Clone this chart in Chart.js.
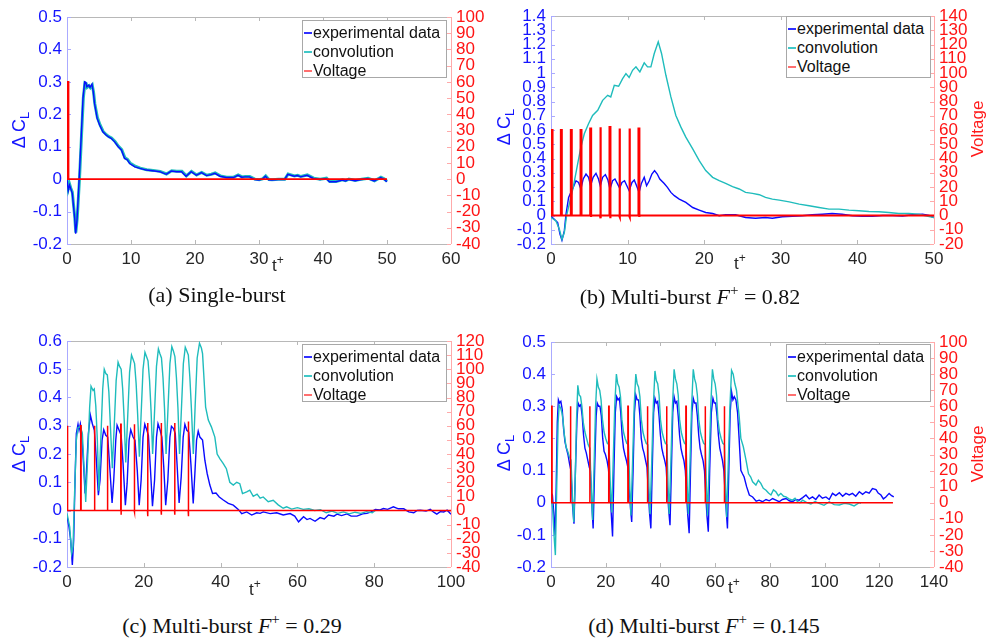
<!DOCTYPE html>
<html>
<head>
<meta charset="utf-8">
<script src="https://cdn.jsdelivr.net/npm/chart.js@4.4.1/dist/chart.umd.min.js"></script>
<style>
  body { margin: 0; background: #fff; }
  #page { position: relative; width: 992px; height: 640px; overflow: hidden; font-family: "Liberation Sans", Arial, sans-serif; }
  canvas { position: absolute; }
  .leg { position: absolute; background: #fff; border: 1px solid #a8a8a8; box-sizing: border-box; padding-top: 2px; }
  .row { position: relative; height: 19px; line-height: 19px; font-size: 16px; color: #111; padding-left: 10px; white-space: nowrap; }
  .sw { position: absolute; left: 1px; top: 9px; width: 8px; height: 2px; }
  .ylab { position: absolute; transform: translate(-50%, -50%) rotate(-90deg); white-space: nowrap; font-size: 18px; color: #1414ff; }
  .ylab sub { font-size: 13px; vertical-align: -4px; }
  .vlab { position: absolute; transform: translate(-50%, -50%) rotate(-90deg); white-space: nowrap; font-size: 17px; color: #ff1a1a; }
  .tlab { position: absolute; font-size: 17px; color: #262626; white-space: nowrap; }
  .tlab sup { font-size: 12px; vertical-align: 7px; }
  .cap { position: absolute; width: 400px; text-align: center; font-family: "Liberation Serif", "DejaVu Serif", serif; font-size: 22px; color: #111; white-space: nowrap; }
  .cap sup { font-size: 15px; vertical-align: 9px; }
</style>
</head>
<body>
<div id="page">
  <canvas id="ca" width="496" height="280" style="left:0;top:0"></canvas>
  <canvas id="cb" width="496" height="280" style="left:496px;top:0"></canvas>
  <canvas id="cc" width="496" height="280" style="left:0;top:320px"></canvas>
  <canvas id="cd" width="496" height="280" style="left:496px;top:320px"></canvas>

  <div class="leg" style="left:302px;top:20px;width:145px;height:58px">
    <div class="row"><span class="sw" style="background:#3030ff"></span>experimental data</div>
    <div class="row"><span class="sw" style="background:#40c8c8"></span>convolution</div>
    <div class="row"><span class="sw" style="background:#ff7070"></span>Voltage</div>
  </div>
  <div class="leg" style="left:786px;top:16px;width:145px;height:62px">
    <div class="row"><span class="sw" style="background:#3030ff"></span>experimental data</div>
    <div class="row"><span class="sw" style="background:#40c8c8"></span>convolution</div>
    <div class="row"><span class="sw" style="background:#ff7070"></span>Voltage</div>
  </div>
  <div class="leg" style="left:302px;top:344px;width:145px;height:58px">
    <div class="row"><span class="sw" style="background:#3030ff"></span>experimental data</div>
    <div class="row"><span class="sw" style="background:#40c8c8"></span>convolution</div>
    <div class="row"><span class="sw" style="background:#ff7070"></span>Voltage</div>
  </div>
  <div class="leg" style="left:786px;top:344px;width:145px;height:58px">
    <div class="row"><span class="sw" style="background:#3030ff"></span>experimental data</div>
    <div class="row"><span class="sw" style="background:#40c8c8"></span>convolution</div>
    <div class="row"><span class="sw" style="background:#ff7070"></span>Voltage</div>
  </div>

  <div class="ylab" style="left:20px;top:130px">Δ C<sub>L</sub></div>
  <div class="ylab" style="left:505px;top:127px">Δ C<sub>L</sub></div>
  <div class="ylab" style="left:20px;top:454px">Δ C<sub>L</sub></div>
  <div class="ylab" style="left:505px;top:453px">Δ C<sub>L</sub></div>
  <div class="vlab" style="left:978px;top:129px">Voltage</div>
  <div class="vlab" style="left:978px;top:454px">Voltage</div>

  <div class="tlab" style="left:272px;top:253px">t<sup>+</sup></div>
  <div class="tlab" style="left:734px;top:251px">t<sup>+</sup></div>
  <div class="tlab" style="left:249px;top:577px">t<sup>+</sup></div>
  <div class="tlab" style="left:728px;top:575px">t<sup>+</sup></div>

  <div class="cap" style="left:17px;top:282px">(a) Single-burst</div>
  <div class="cap" style="left:490px;top:282px">(b) Multi-burst <i>F</i><sup>+</sup> = 0.82</div>
  <div class="cap" style="left:32px;top:611px">(c) Multi-burst <i>F</i><sup>+</sup> = 0.29</div>
  <div class="cap" style="left:504px;top:611px">(d) Multi-burst <i>F</i><sup>+</sup> = 0.145</div>
</div>

<script>
// ---- (a) single burst ----
const aExp = [[0,0],[0.2,-0.035],[0.4,-0.018],[0.6,-0.03],[0.83,-0.044],[1.0,-0.08],[1.2,-0.12],[1.35,-0.168],[1.56,-0.127],[1.9,0.0],[2.24,0.14],[2.5,0.25],[2.76,0.30],[2.95,0.298],[3.1,0.285],[3.4,0.29],[3.6,0.283],[3.9,0.293],[4.1,0.27],[4.3,0.234],[4.7,0.188],[5.1,0.167],[5.6,0.146],[6.1,0.136],[6.5,0.13],[6.9,0.126],[7.45,0.115],[8.0,0.1],[8.5,0.09],[9.0,0.064],[9.4,0.06],[9.8,0.048],[10.6,0.038],[11.4,0.033],[12.4,0.028],[13.4,0.026],[14.5,0.023],[15.5,0.015],[16.3,0.025],[17.1,0.023],[17.9,0.023],[18.6,0.009],[19.4,0.023],[20.2,0.012],[21,0.02],[21.8,0.011],[22.5,0.014],[23.1,0.018],[23.9,0.009],[24.9,0.005],[26,0.005],[26.7,0.012],[27.3,0.006],[27.8,0.007],[28.5,0.007],[29.3,-0.001],[30,-0.003],[30.5,0.0],[31,0.009],[31.5,-0.002],[32,-0.003],[33,-0.001],[34,-0.001],[34.5,0.015],[35.5,0.009],[36,0.011],[36.5,0.007],[37.5,0.012],[38.5,0.002],[39.5,-0.001],[40.5,0.002],[41,-0.008],[42,-0.008],[43,-0.003],[43.5,-0.006],[44,-0.001],[45,-0.005],[46,-0.001],[47,0.002],[48,-0.006],[49,0.005],[49.5,0.0],[50,-0.008]];
const aConv = [[0,0.002],[0.2,-0.03],[0.4,-0.015],[0.6,-0.028],[0.83,-0.04],[1.0,-0.075],[1.2,-0.115],[1.38,-0.165],[1.6,-0.12],[1.95,0.0],[2.28,0.14],[2.55,0.25],[2.8,0.297],[3.0,0.295],[3.15,0.283],[3.45,0.288],[3.65,0.282],[3.95,0.29],[4.15,0.268],[4.35,0.232],[4.75,0.19],[5.15,0.168],[5.65,0.147],[6.15,0.137],[6.55,0.131],[6.95,0.127],[7.5,0.116],[8.05,0.101],[8.55,0.091],[9.05,0.066],[9.45,0.061],[9.85,0.05],[10.65,0.04],[11.45,0.034],[12.45,0.029],[13.45,0.027],[14.55,0.024],[15.55,0.016],[16.35,0.026],[17.15,0.024],[17.95,0.024],[18.65,0.01],[19.45,0.024],[20.25,0.013],[21.05,0.021],[21.85,0.012],[22.55,0.015],[23.15,0.019],[23.95,0.01],[24.95,0.006],[26.05,0.006],[26.75,0.013],[27.35,0.007],[27.85,0.008],[28.55,0.008],[29.35,0.0],[30.05,-0.002],[30.55,0.001],[31.05,0.01],[31.55,-0.001],[32.05,-0.002],[33.05,0.0],[34.05,0.0],[34.55,0.016],[35.55,0.01],[36.05,0.012],[36.55,0.008],[37.55,0.013],[38.55,0.003],[39.55,0.0],[40.55,0.003],[41.05,-0.007],[42.05,-0.007],[43.05,-0.002],[43.55,-0.005],[44.05,0.0],[45.05,-0.004],[46.05,0.0],[47.05,0.003],[48.05,-0.005],[49.05,0.006],[49.55,0.001],[50,-0.007]];
const aPulseT = [0.05];
const aPulseTop = [60];
const aPulseLow = [0];

// ---- (b) multi burst F+ = 0.82 ----
const bExp = [[0,-0.005],[0.43,-0.026],[0.87,-0.05],[1.17,-0.13],[1.43,-0.174],[1.74,-0.108],[1.96,0.01],[2.3,0.127],[2.6,0.162],[2.9,0.197],[3.26,0.244],[3.6,0.232],[3.9,0.186],[4.2,0.256],[4.57,0.291],[4.9,0.268],[5.17,0.209],[5.5,0.268],[5.87,0.296],[6.2,0.256],[6.43,0.209],[6.74,0.268],[7.1,0.287],[7.43,0.249],[7.7,0.186],[8.04,0.244],[8.35,0.256],[8.65,0.225],[8.96,0.193],[9.26,0.232],[9.6,0.244],[9.9,0.209],[10.2,0.174],[10.57,0.232],[10.87,0.249],[11.17,0.209],[11.5,0.162],[11.8,0.225],[12.17,0.268],[12.48,0.209],[12.83,0.244],[13.17,0.291],[13.52,0.315],[13.87,0.291],[14.2,0.256],[14.78,0.225],[15.2,0.197],[15.65,0.162],[16.1,0.139],[16.74,0.115],[17.6,0.092],[18.5,0.056],[19.35,0.038],[20.2,0.021],[21.1,0.014],[21.96,-0.002],[22.8,0.005],[24.1,0.005],[25.4,-0.014],[26.7,-0.019],[28,-0.014],[28.9,-0.019],[30.2,-0.009],[31.5,-0.005],[32.8,-0.002],[34.1,0.005],[35.4,0.009],[36.7,0.014],[38.0,0.009],[39.35,-0.002],[40.65,-0.005],[41.96,-0.005],[43.3,0.0],[44.6,0.0],[45.9,-0.003],[47.2,0.005],[48.5,0.009],[49.35,0.0],[50,-0.014]];
const bConv = [[0,-0.014],[0.65,-0.038],[1.09,-0.096],[1.43,-0.167],[1.74,-0.12],[2.04,0.0],[2.48,0.103],[2.9,0.197],[3.48,0.362],[3.9,0.479],[4.35,0.573],[4.9,0.644],[5.43,0.702],[6.1,0.738],[6.74,0.808],[7.4,0.843],[7.8,0.832],[8.26,0.914],[8.83,0.907],[9.35,0.961],[9.78,0.996],[10.2,0.968],[10.65,1.019],[11.09,1.043],[11.6,1.008],[12.17,1.071],[12.6,1.043],[13.04,1.043],[13.48,1.137],[14.0,1.219],[14.43,1.137],[15.0,0.984],[15.65,0.832],[16.3,0.702],[16.96,0.62],[17.6,0.55],[18.5,0.467],[19.35,0.385],[20.2,0.315],[21.1,0.268],[21.96,0.244],[22.8,0.225],[23.7,0.202],[24.57,0.186],[25.4,0.162],[26.3,0.155],[27.2,0.146],[28,0.127],[28.9,0.115],[29.8,0.108],[31.1,0.096],[32.4,0.08],[33.7,0.068],[35,0.056],[36.3,0.045],[37.6,0.045],[38.9,0.038],[40.2,0.033],[41.5,0.028],[42.8,0.026],[44.1,0.021],[45.4,0.014],[46.7,0.014],[48,0.009],[48.9,-0.002],[50,-0.014]];
const bPulseT = [0.09, 1.3, 2.6, 3.87, 5.13, 6.4, 7.65, 8.9, 10.2, 11.43];
const bPulseTop = [60, 60, 60, 60, 61, 62, 62, 61, 61, 61];
const bPulseLow = [0, 0, 0, 0, -1, -2, -2, -1, -1, -1];

// ---- (c) multi burst F+ = 0.29 ----
const cExp = [[0,-0.02],[0.52,-0.058],[0.96,-0.105],[1.39,-0.193],[1.74,-0.105],[2.09,0.107],[2.43,0.272],[2.87,0.305],[3.13,0.284],[3.48,0.307],[3.83,0.272],[4.35,0.154],[4.7,0.06],[5.04,0.131],[5.57,0.272],[6.09,0.337],[6.6,0.307],[7.13,0.284],[7.65,0.178],[8.17,0.054],[8.6,0.107],[9.13,0.249],[9.57,0.286],[10.1,0.266],[10.6,0.26],[11.13,0.154],[11.74,0.027],[12.17,0.107],[12.7,0.249],[13.04,0.302],[13.57,0.284],[14.1,0.266],[14.6,0.166],[15.2,0.019],[15.65,0.095],[16.17,0.249],[16.6,0.286],[17.2,0.26],[17.7,0.249],[18.3,0.142],[18.8,0.019],[19.3,0.107],[19.8,0.26],[20.26,0.305],[20.8,0.284],[21.2,0.266],[21.7,0.154],[22.26,0.015],[22.8,0.107],[23.3,0.26],[23.7,0.307],[24.26,0.284],[24.7,0.26],[25.2,0.154],[25.7,0.019],[26.26,0.107],[26.8,0.26],[27.2,0.298],[27.74,0.29],[28.2,0.272],[28.7,0.154],[29.2,0.027],[29.74,0.119],[30.26,0.26],[30.7,0.305],[31.2,0.284],[31.7,0.278],[32.26,0.166],[32.87,0.025],[33.3,0.131],[33.74,0.249],[34.17,0.281],[34.6,0.26],[35.3,0.249],[35.9,0.178],[36.5,0.131],[37.2,0.09],[37.9,0.06],[38.8,0.062],[39.65,0.048],[40.7,0.037],[42,0.025],[43.3,0.019],[44.6,0.004],[45.5,-0.011],[46.8,-0.005],[48.1,-0.016],[49.4,-0.008],[50.3,-0.01],[51.1,-0.005],[52.9,-0.011],[54.6,-0.008],[56.3,-0.016],[58.1,-0.011],[59.3,-0.02],[60.3,-0.04],[61.6,-0.022],[62.5,-0.032],[63.3,-0.028],[64.6,-0.038],[65.9,-0.025],[67,-0.03],[68.1,-0.016],[69.5,-0.02],[70.3,-0.013],[71.5,-0.018],[72.9,-0.012],[74,-0.02],[75.5,-0.02],[77,-0.012],[78.1,-0.01],[79.2,-0.005],[80.3,0.004],[81.5,0.002],[82.4,0.007],[83.5,0.004],[85,0.013],[86.3,0.006],[87.7,0.006],[89,-0.005],[90.3,-0.008],[91.2,0.0],[92,0.001],[93.5,-0.002],[94.6,0.004],[95.5,-0.006],[96.3,-0.013],[97.2,-0.004],[98.1,-0.005],[99,0.001],[100,-0.013]];
const cConv = [[0,-0.01],[0.7,-0.058],[1.22,-0.152],[1.57,-0.128],[2.0,0.072],[2.43,0.249],[2.87,0.293],[3.48,0.298],[4.0,0.272],[4.52,0.131],[4.87,0.03],[5.4,0.19],[5.9,0.366],[6.26,0.44],[6.78,0.425],[7.1,0.43],[7.5,0.37],[7.9,0.25],[8.3,0.07],[8.8,0.25],[9.3,0.43],[9.7,0.5],[10.1,0.485],[10.5,0.48],[10.9,0.42],[11.3,0.3],[11.8,0.15],[12.3,0.3],[12.8,0.46],[13.3,0.525],[13.7,0.51],[14.1,0.5],[14.5,0.43],[14.9,0.32],[15.3,0.17],[15.8,0.33],[16.3,0.49],[16.8,0.55],[17.2,0.535],[17.6,0.52],[18.0,0.45],[18.4,0.34],[18.85,0.19],[19.3,0.34],[19.8,0.5],[20.3,0.56],[20.7,0.545],[21.1,0.53],[21.5,0.46],[21.9,0.35],[22.3,0.2],[22.8,0.35],[23.3,0.51],[23.8,0.572],[24.2,0.555],[24.6,0.54],[25.0,0.47],[25.4,0.36],[25.8,0.2],[26.3,0.36],[26.8,0.52],[27.3,0.58],[27.7,0.565],[28.1,0.545],[28.5,0.47],[28.9,0.36],[29.3,0.2],[29.8,0.36],[30.3,0.52],[30.8,0.578],[31.2,0.565],[31.6,0.55],[32.0,0.47],[32.4,0.36],[32.9,0.2],[33.4,0.38],[33.9,0.54],[34.5,0.592],[35.0,0.575],[35.3,0.555],[35.6,0.485],[36.1,0.366],[36.8,0.32],[37.6,0.296],[38.5,0.26],[39.1,0.2],[39.8,0.184],[40.7,0.166],[41.5,0.148],[42.4,0.1],[43.3,0.09],[44.2,0.1],[45,0.095],[45.7,0.06],[46.8,0.066],[47.6,0.072],[48.5,0.05],[49.5,0.058],[50.3,0.044],[51.1,0.048],[52.4,0.031],[53.7,0.036],[55,0.02],[56.3,0.008],[57.2,0.013],[58.5,0.005],[60,0.01],[61.5,0.004],[63,0.006],[64.5,0.0],[66,0.003],[67.5,-0.008],[69,-0.002],[70.5,-0.01],[72,-0.005],[73.5,-0.012],[75,-0.006],[76.5,-0.01],[78,-0.004],[79.5,-0.008],[80.3,0.0]];
const cPulseT = [0.09, 3.57, 7.13, 10.5, 14.0, 17.5, 20.96, 24.5, 28.0, 31.56];
const cPulseTop = [60, 60, 60, 60, 61, 61, 62, 62, 62, 63];
const cPulseLow = [0, 0, 0, 0, -3, -1, -4, -3, -3, -4];

// ---- (d) multi burst F+ = 0.145 ----
const dExp = [[0,0.03],[0.5,0.025],[1.0,-0.03],[1.5,-0.1],[1.9,0.05],[2.3,0.25],[2.7,0.32],[3.1,0.31],[3.6,0.315],[4.1,0.29],[4.6,0.23],[5.1,0.19],[5.6,0.17],[6.2,0.15],[6.8,0.12],[7.3,0.1],[7.8,0.0],[8.4,-0.065],[9.0,0.12],[9.5,0.26],[9.9,0.31],[10.4,0.3],[10.9,0.305],[11.4,0.27],[11.9,0.21],[12.4,0.17],[12.9,0.155],[13.5,0.13],[14.0,0.11],[14.4,0.1],[14.9,0.0],[15.4,-0.08],[16.0,0.12],[16.5,0.27],[16.9,0.31],[17.4,0.3],[17.9,0.3],[18.4,0.27],[18.9,0.2],[19.4,0.16],[19.9,0.15],[20.5,0.13],[21.0,0.105],[21.5,0.05],[22.0,-0.03],[22.5,-0.105],[23.0,0.1],[23.5,0.28],[24.0,0.33],[24.5,0.32],[25.0,0.325],[25.5,0.28],[26.0,0.21],[26.5,0.17],[27.0,0.15],[27.6,0.13],[28.1,0.11],[28.6,0.04],[29.1,-0.02],[29.5,-0.06],[30.0,0.1],[30.5,0.28],[31.0,0.335],[31.5,0.32],[32.0,0.32],[32.5,0.27],[33.0,0.2],[33.5,0.17],[34.0,0.155],[34.6,0.13],[35.1,0.11],[35.6,0.03],[36.0,-0.03],[36.5,-0.08],[37.0,0.1],[37.5,0.28],[38.0,0.325],[38.5,0.31],[39.0,0.315],[39.5,0.27],[40.0,0.21],[40.5,0.17],[41.0,0.15],[41.6,0.13],[42.1,0.11],[42.6,0.03],[43.0,-0.02],[43.5,-0.07],[44.0,0.1],[44.5,0.28],[45.0,0.33],[45.5,0.31],[46.0,0.315],[46.5,0.27],[47.0,0.21],[47.5,0.17],[48.0,0.15],[48.6,0.13],[49.1,0.1],[49.6,0.02],[50.0,-0.04],[50.5,-0.095],[51.0,0.1],[51.5,0.28],[52.0,0.325],[52.5,0.31],[53.0,0.31],[53.5,0.27],[54.0,0.21],[54.5,0.17],[55.0,0.15],[55.6,0.13],[56.1,0.1],[56.6,0.02],[57.0,-0.04],[57.5,-0.09],[58.0,0.1],[58.6,0.28],[59.2,0.325],[59.7,0.31],[60.2,0.31],[60.7,0.27],[61.2,0.21],[61.7,0.17],[62.2,0.15],[62.7,0.13],[63.2,0.1],[63.7,0.02],[64.1,-0.03],[64.5,-0.08],[65.0,0.1],[65.5,0.28],[66.0,0.345],[66.5,0.32],[67.0,0.33],[67.6,0.32],[68.2,0.28],[68.8,0.194],[69.4,0.101],[70.0,0.09],[70.6,0.08],[71.5,0.05],[72.5,0.024],[73.7,0.018],[75,0.005],[76.1,0.008],[77.3,0.003],[78.6,0.01],[79.8,0.006],[81,0.013],[82.2,0.008],[83.4,0.003],[84.6,0.01],[85.9,0.013],[87.1,0.006],[88.3,0.003],[89.5,0.01],[90.7,0.008],[92,0.016],[93.2,0.024],[94.4,0.012],[95.6,0.018],[96.8,0.01],[98,0.024],[99.2,0.014],[100.5,0.018],[101.7,0.01],[102.9,0.029],[104.1,0.022],[105.4,0.031],[106.6,0.02],[107.8,0.029],[109,0.024],[110.2,0.029],[111.4,0.02],[112.7,0.034],[113.9,0.026],[115.1,0.034],[116.3,0.03],[117.5,0.044],[118.8,0.041],[119.6,0.03],[120.6,0.024],[121.5,0.012],[122.4,0.018],[123.6,0.029],[124.5,0.022],[125.3,0.018]];
const dConv = [[0,0.02],[0.6,-0.02],[1.1,-0.1],[1.6,-0.163],[2.1,0.05],[2.6,0.25],[3.0,0.303],[3.5,0.295],[4.0,0.28],[4.4,0.256],[4.9,0.21],[5.5,0.174],[6.1,0.16],[6.7,0.143],[7.3,0.132],[7.8,0.03],[8.3,-0.06],[8.8,0.05],[9.3,0.25],[9.8,0.365],[10.3,0.335],[10.8,0.33],[11.3,0.3],[11.8,0.25],[12.4,0.22],[13.0,0.2],[13.6,0.18],[14.2,0.17],[14.7,0.05],[15.2,-0.054],[15.7,0.1],[16.3,0.3],[16.8,0.385],[17.3,0.36],[17.8,0.35],[18.3,0.32],[18.8,0.26],[19.4,0.22],[20.0,0.2],[20.6,0.185],[21.2,0.18],[21.7,0.05],[22.2,-0.03],[22.7,0.12],[23.3,0.3],[23.9,0.4],[24.4,0.37],[24.9,0.36],[25.4,0.33],[25.9,0.26],[26.5,0.22],[27.1,0.2],[27.7,0.185],[28.3,0.18],[28.8,0.05],[29.2,-0.04],[29.8,0.12],[30.4,0.3],[31.0,0.4],[31.5,0.37],[32.0,0.36],[32.5,0.33],[33.0,0.26],[33.6,0.22],[34.2,0.2],[34.8,0.185],[35.4,0.18],[35.8,0.05],[36.2,-0.035],[36.8,0.12],[37.4,0.3],[38.0,0.41],[38.5,0.38],[39.0,0.37],[39.5,0.335],[40.0,0.26],[40.6,0.22],[41.2,0.2],[41.8,0.185],[42.4,0.18],[42.8,0.05],[43.2,-0.035],[43.8,0.12],[44.4,0.3],[45.0,0.415],[45.5,0.385],[46.0,0.37],[46.5,0.335],[47.0,0.26],[47.6,0.22],[48.2,0.2],[48.8,0.185],[49.4,0.18],[49.8,0.05],[50.2,-0.035],[50.8,0.12],[51.4,0.3],[52.0,0.415],[52.5,0.385],[53.0,0.37],[53.5,0.335],[54.0,0.26],[54.6,0.22],[55.2,0.2],[55.8,0.185],[56.4,0.18],[56.8,0.05],[57.2,-0.04],[57.8,0.12],[58.4,0.3],[59.0,0.415],[59.5,0.385],[60.0,0.37],[60.5,0.335],[61.0,0.26],[61.6,0.22],[62.2,0.2],[62.8,0.185],[63.4,0.18],[63.8,0.05],[64.2,-0.045],[64.8,0.12],[65.4,0.3],[66.0,0.412],[66.6,0.4],[67.2,0.37],[67.8,0.35],[68.8,0.267],[69.4,0.2],[70.3,0.174],[71.3,0.132],[72.2,0.09],[73.0,0.08],[73.7,0.065],[74.9,0.055],[75.8,0.07],[76.7,0.06],[77.6,0.045],[78.6,0.039],[79.5,0.03],[80.4,0.024],[81.3,0.04],[82.2,0.034],[83.1,0.022],[84,0.029],[85,0.02],[85.9,0.018],[87,0.012],[88.3,0.008],[89.2,0.014],[90.1,0.003],[91,0.0],[92,0.008],[93.5,0.0],[95,-0.004],[96.5,0.004],[98,-0.002],[99.8,-0.008],[101.7,0.003],[103.5,-0.006],[105.4,-0.007],[107.2,-0.002],[109,-0.004],[110.8,-0.01],[112.7,0.0],[113.3,-0.002]];
const dPulseT = [0.24, 7.06, 14.1, 21.1, 28.1, 35.2, 42.2, 49.3, 56.3, 63.3];
const dPulseTop = [60, 60, 60, 60, 60, 60, 60, 60, 60, 60];
const dPulseLow = [0, 0, 0, 0, 0, 0, 0, 0, 0, 0];

const BLUE = '#0a0aff';
const CYAN = '#1fbcbc';
const RED = '#ff0000';

Chart.defaults.font.family = "'Liberation Sans', Arial, sans-serif";
Chart.defaults.font.size = 17;

function pts(arr) {
  return arr.map(p => ({ x: p[0], y: p[1] }));
}

function pulseLine(ts, tops, lows, w, end) {
  const out = [[0, 0]];
  ts.forEach((t, i) => {
    out.push([t, 0], [t, tops[i]], [t + w, tops[i]], [t + w, lows[i]], [t + w, 0]);
  });
  out.push([end, 0]);
  return out;
}

// matlab style box with inward ticks
const boxPlugin = {
  id: 'box',
  beforeDatasetsDraw(chart) {
    const { ctx, chartArea: a, scales } = chart;
    const seg = (x1, y1, x2, y2) => { ctx.beginPath(); ctx.moveTo(x1, y1); ctx.lineTo(x2, y2); ctx.stroke(); };
    ctx.save();
    ctx.lineWidth = 1;
    ctx.strokeStyle = '#b8b8b8';
    scales.x.ticks.forEach(t => {
      const px = Math.round(scales.x.getPixelForValue(t.value)) + 0.5;
      seg(px, a.bottom, px, a.bottom - 4);
      seg(px, a.top, px, a.top + 4);
    });
    seg(a.left, Math.round(a.top) + 0.5, a.right, Math.round(a.top) + 0.5);
    seg(a.left, Math.round(a.bottom) + 0.5, a.right, Math.round(a.bottom) + 0.5);
    ctx.strokeStyle = '#aaaaff';
    scales.y.ticks.forEach(t => {
      const py = Math.round(scales.y.getPixelForValue(t.value)) + 0.5;
      seg(a.left, py, a.left + 4, py);
    });
    seg(Math.round(a.left) + 0.5, a.top, Math.round(a.left) + 0.5, a.bottom);
    ctx.strokeStyle = '#ffaaaa';
    scales.y1.ticks.forEach(t => {
      const py = Math.round(scales.y1.getPixelForValue(t.value)) + 0.5;
      seg(a.right, py, a.right - 4, py);
    });
    seg(Math.round(a.right) + 0.5, a.top, Math.round(a.right) + 0.5, a.bottom);
    ctx.restore();
  }
};

function makeChart(id, c) {
  return new Chart(document.getElementById(id), {
    type: 'line',
    data: {
      datasets: [
        { label: 'Voltage', data: pts(c.volt), yAxisID: 'y1', borderColor: RED, borderWidth: c.voltW, order: 0 },
        { label: 'convolution', data: pts(c.conv), yAxisID: 'y', borderColor: CYAN, borderWidth: c.convW, order: c.convUnder ? 2 : 1 },
        { label: 'experimental data', data: pts(c.exp), yAxisID: 'y', borderColor: BLUE, borderWidth: 1.4, order: c.convUnder ? 1 : 2 }
      ]
    },
    options: {
      responsive: false,
      animation: false,
      elements: { point: { radius: 0 }, line: { tension: 0 } },
      plugins: { legend: { display: false }, tooltip: { enabled: false } },
      layout: { autoPadding: false, padding: { top: c.top, left: 0, right: 0, bottom: 0 } },
      scales: {
        x: {
          type: 'linear', min: 0, max: c.xMax,
          ticks: { stepSize: c.xStep, color: '#262626', padding: 5, autoSkip: false, maxRotation: 0 },
          grid: { display: false, drawTicks: false },
          border: { display: false },
          afterFit: s => { s.height = c.bottomH; }
        },
        y: {
          position: 'left', min: c.yMin, max: c.yMax,
          ticks: { stepSize: 0.1, color: '#1414ff', padding: 5, autoSkip: false, callback: v => String(Math.round(v * 10) / 10) },
          grid: { display: false, drawTicks: false },
          border: { display: false },
          afterFit: s => { s.width = c.leftW; }
        },
        y1: {
          position: 'right', min: c.vMin, max: c.vMax,
          ticks: { stepSize: 10, color: '#ff1414', padding: 5, autoSkip: false, callback: v => String(Math.round(v)) },
          grid: { display: false, drawTicks: false },
          border: { display: false },
          afterFit: s => { s.width = c.rightW; }
        }
      }
    },
    plugins: [boxPlugin]
  });
}

makeChart('ca', {
  exp: aExp, conv: aConv, volt: pulseLine(aPulseT, aPulseTop, aPulseLow, 0.2, 50),
  xMax: 60, xStep: 10, yMin: -0.2, yMax: 0.5, vMin: -40, vMax: 100,
  top: 17, leftW: 67, rightW: 45, bottomH: 36, voltW: 1.6, convW: 3, convUnder: true
});
makeChart('cb', {
  exp: bExp, conv: bConv, volt: pulseLine(bPulseT, bPulseTop, bPulseLow, 0.1, 50),
  xMax: 50, xStep: 10, yMin: -0.2, yMax: 1.4, vMin: -20, vMax: 140,
  top: 16, leftW: 55, rightW: 58, bottomH: 36, voltW: 2.2, convW: 1.4, convUnder: false
});
makeChart('cc', {
  exp: cExp, conv: cConv, volt: pulseLine(cPulseT, cPulseTop, cPulseLow, 0.1, 100),
  xMax: 100, xStep: 20, yMin: -0.2, yMax: 0.6, vMin: -40, vMax: 120,
  top: 21, leftW: 67, rightW: 45, bottomH: 33, voltW: 1.5, convW: 1.4, convUnder: false
});
makeChart('cd', {
  exp: dExp, conv: dConv, volt: pulseLine(dPulseT, dPulseTop, dPulseLow, 0.15, 125),
  xMax: 140, xStep: 20, yMin: -0.2, yMax: 0.5, vMin: -40, vMax: 100,
  top: 22, leftW: 55, rightW: 58, bottomH: 33, voltW: 1.5, convW: 1.4, convUnder: false
});
</script>
</body>
</html>
